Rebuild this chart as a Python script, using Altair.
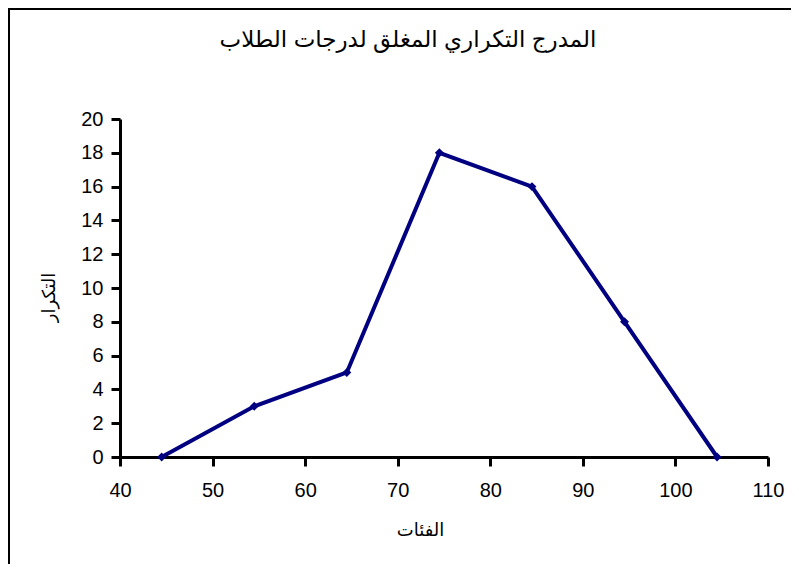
import altair as alt
import pandas as pd

midpoints = [44.5, 54.5, 64.5, 74.5, 84.5, 94.5, 104.5]
frequencies = [0, 3, 5, 18, 16, 8, 0]
x_ticks = [40, 50, 60, 70, 80, 90, 100, 110]
y_ticks = [0, 2, 4, 6, 8, 10, 12, 14, 16, 18, 20]

title_text = "المدرج التكراري المغلق لدرجات الطلاب"
x_title = "الفئات"
y_title = "التكرار"

df = pd.DataFrame({"x": midpoints, "y": frequencies})
tdf = pd.DataFrame({"t": [title_text]})

FONT = "Liberation Sans, Arial, DejaVu Sans"
W, H = 648, 338

x_enc = alt.X(
    "x:Q",
    scale=alt.Scale(domain=[40, 110], nice=False, zero=False),
    axis=alt.Axis(
        values=x_ticks, title=x_title, grid=False, domain=True,
        domainColor="black", domainWidth=3, tickColor="black", tickWidth=3,
        tickSize=9, labelPadding=14, labelFontSize=20, labelFont=FONT,
        labelColor="black", titleFont=FONT, titleFontSize=18,
        titleFontWeight="normal", titleColor="black",
        titleX=300, titleY=73, titleBaseline="middle", titleAnchor="middle",
        format="d", labelFlush=False,
    ),
)
y_enc = alt.Y(
    "y:Q",
    scale=alt.Scale(domain=[0, 20], nice=False),
    axis=alt.Axis(
        values=y_ticks, title=y_title, grid=False, domain=True,
        domainColor="black", domainWidth=3, tickColor="black", tickWidth=3,
        tickSize=9, labelPadding=8, labelFontSize=20, labelFont=FONT,
        labelColor="black", titleFont=FONT, titleFontSize=18,
        titleFontWeight="normal", titleColor="black",
        titleX=-71, titleY=178, titleAngle=270, titleBaseline="middle",
        format="d", labelFlush=False,
    ),
)

base = alt.Chart(df).encode(x=x_enc, y=y_enc)

line = base.mark_line(color="#000080", strokeWidth=4)
pts = base.mark_point(
    shape="diamond", filled=True, color="#000080", size=80, opacity=1
)

border = alt.Chart(tdf).mark_rect(
    fill=None, stroke="black", strokeWidth=2, clip=False
).encode(
    x=alt.value(-111), x2=alt.value(W + 100),
    y=alt.value(-110), y2=alt.value(H + 150),
)

title = alt.Chart(tdf).mark_text(
    font=FONT, fontSize=23, color="black", align="center",
    baseline="alphabetic", clip=False
).encode(text="t:N", x=alt.value(288), y=alt.value(-72))

chart = alt.layer(line, pts, border, title).properties(
    width=W,
    height=H,
    background="white",
    padding={"left": 112, "top": 111, "right": 23, "bottom": 107},
    autosize=alt.AutoSizeParams(type="none"),
).configure_view(strokeWidth=0, stroke="transparent")

chart.save("out.html", embed_options={"renderer": "svg", "actions": False})
